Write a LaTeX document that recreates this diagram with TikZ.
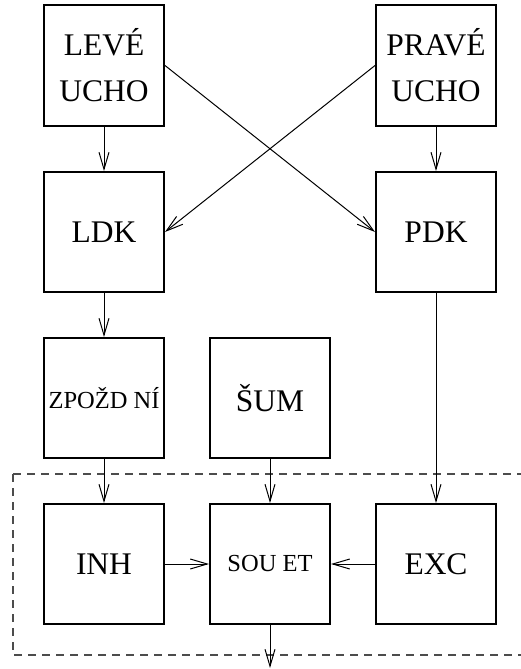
\documentclass[tikz,border=0pt]{standalone}
\usepackage{fontspec}
\setmainfont{Liberation Serif}
\usetikzlibrary{arrows.meta}
\begin{document}
\begin{tikzpicture}[x=1pt,y=-1pt,
  blk/.style={draw, line width=2pt, minimum width=120pt, minimum height=120pt, inner sep=0pt, align=center, font=\fontsize{31.5}{46}\selectfont},
  small/.style={font=\fontsize{24.5}{28}\selectfont},
  conn/.style={line width=1pt, -{Straight Barb[length=17pt,width=10pt,line width=1pt]}},
  frame/.style={draw=black!70, line width=1.2pt, dash pattern=on 8pt off 6pt}
]
\useasboundingbox (0,0) rectangle (520,669);
\draw[frame] (13,474) -- (530,474) (13,474) -- (13,655) -- (530,655);
\node[blk] (le) at (104,65.5) {LEVÉ\\UCHO};
\node[blk] (pr) at (436,65.5) {PRAVÉ\\UCHO};
\node[blk] (ldk) at (104,232) {LDK};
\node[blk] (pdk) at (436,232) {PDK};
\node[blk,small] (zp) at (104,398) {ZPOŽD NÍ};
\node[blk] (sum) at (270,398) {ŠUM};
\node[blk] (inh) at (104,564) {INH};
\node[blk,small] (sou) at (270,564) {SOU ET};
\node[blk] (exc) at (436,564) {EXC};
\coordinate (out) at (270,668);
\draw[conn] (le) -- (ldk);
\draw[conn] (pr) -- (pdk);
\draw[conn] (le.east) -- (pdk.west);
\draw[conn] (pr.west) -- (ldk.east);
\draw[conn] (ldk) -- (zp);
\draw[conn] (zp) -- (inh);
\draw[conn] (sum) -- (sou);
\draw[conn] (pdk) -- (exc);
\draw[conn] (inh) -- (sou);
\draw[conn] (exc) -- (sou);
\draw[conn] (sou) -- (out);
\end{tikzpicture}
\end{document}
